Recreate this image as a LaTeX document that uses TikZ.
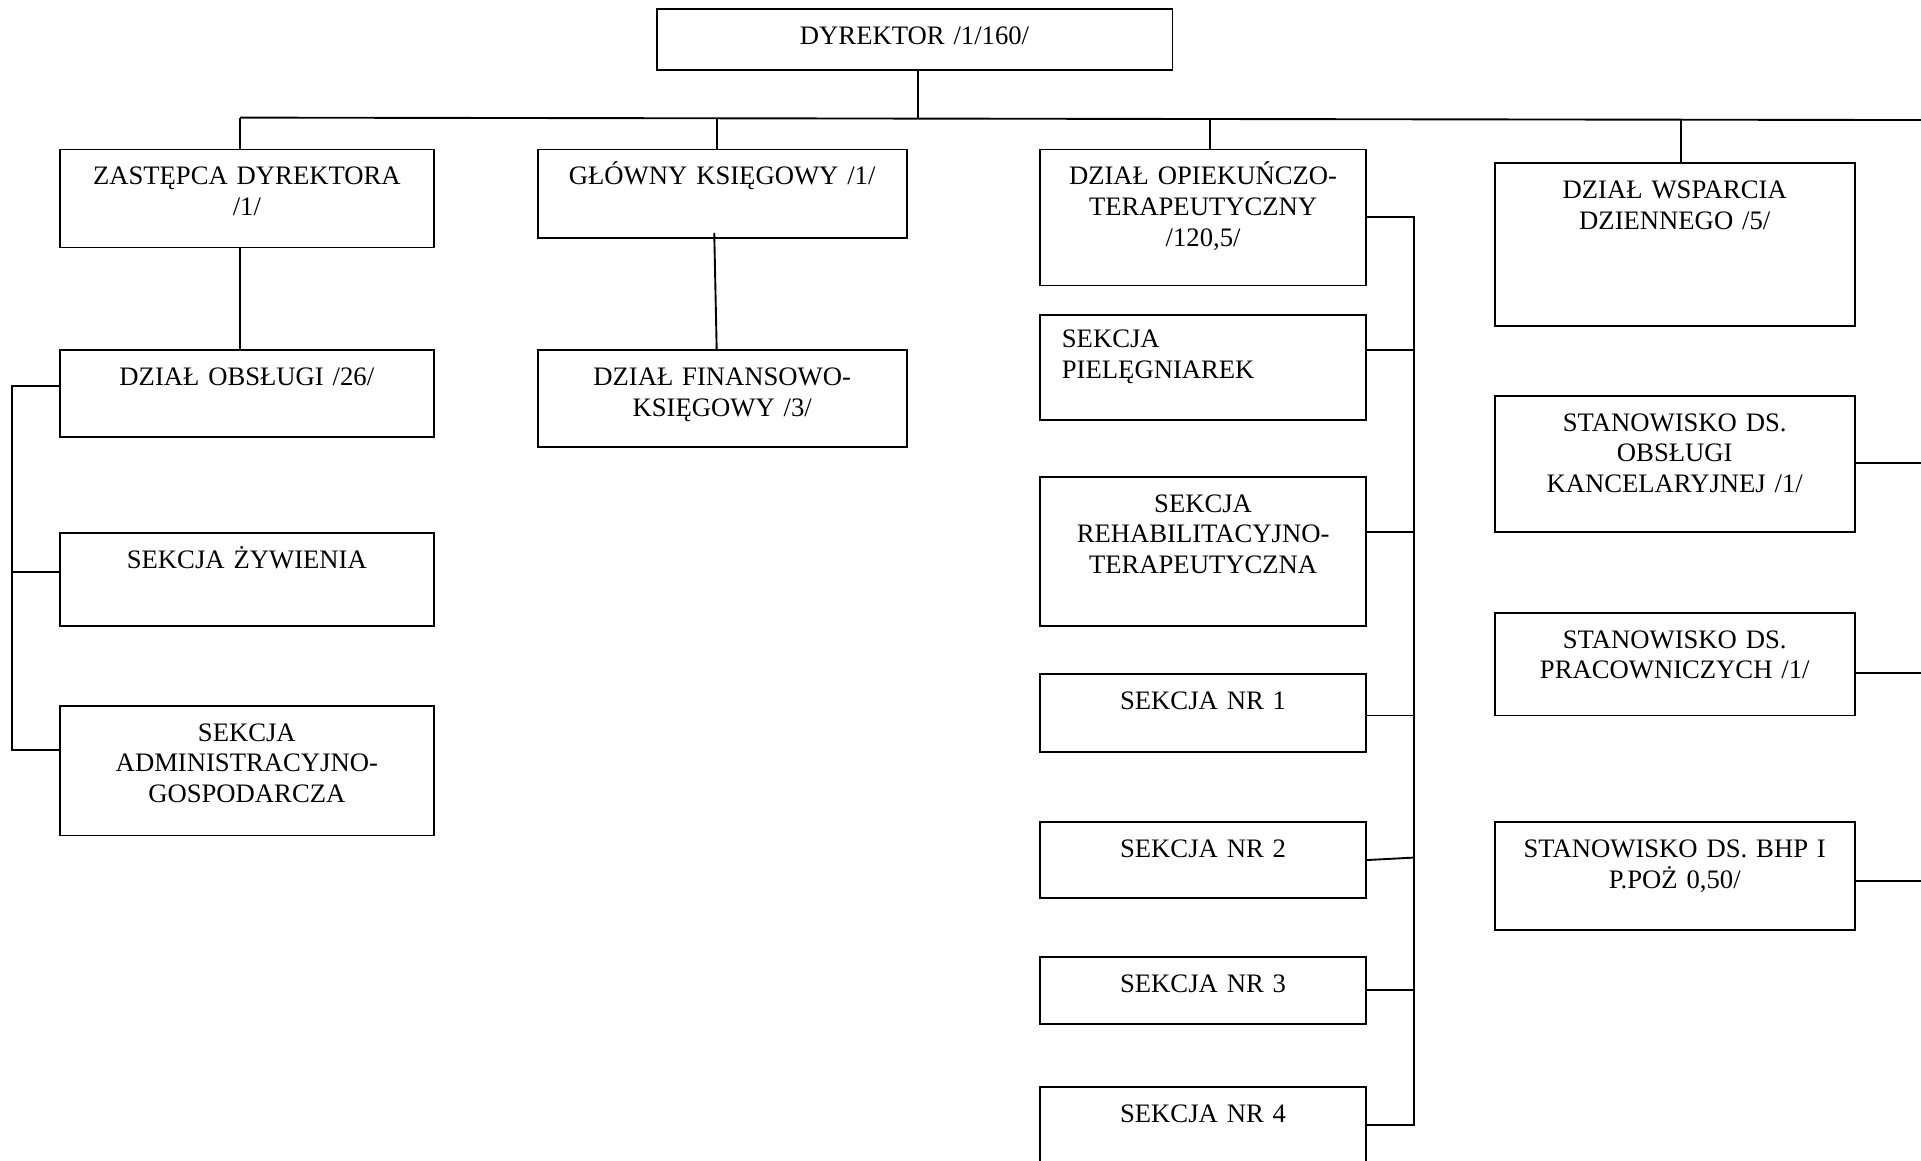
\documentclass[tikz,border=0pt]{standalone}
\usepackage{fontspec}
\setmainfont{Liberation Serif}
\usetikzlibrary{fit}
\newcommand\orgbox[6]{%
  \node[frame, fit={(#2,#3)(#4,#5)}] (#1) {};
  \node[lbl, anchor=base] (#1-t) at ({(#2+#4)/2},{#3+29}) {#6};
}
\begin{document}
\begin{tikzpicture}[x=0.5513pt,y=-0.5513pt, line width=0.85pt,
  frame/.style={draw, inner sep=0pt},
  lbl/.style={inner sep=0pt, font=\fontsize{12}{13.8}\selectfont, align=center, text width=260pt},
  lbll/.style={inner sep=0pt, font=\fontsize{12}{13.8}\selectfont, align=left, text width=200pt}]
\useasboundingbox (0,0) rectangle (1568,947);
\clip (0,0) rectangle (1568,947);

% boxes
\orgbox{dyr}{536}{7}{957}{57}{DYREKTOR /1/160/}
\orgbox{zast}{49}{122}{354}{202}{ZASTĘPCA DYREKTORA\\/1/}
\orgbox{glow}{439}{122}{740}{194}{GŁÓWNY KSIĘGOWY /1/}
\orgbox{opiek}{849}{122}{1115}{233}{DZIAŁ OPIEKUŃCZO-\\TERAPEUTYCZNY\\/120,5/}
\orgbox{wsp}{1220}{133}{1514}{266}{DZIAŁ WSPARCIA\\DZIENNEGO /5/}
\orgbox{obs}{49}{286}{354}{357}{DZIAŁ OBSŁUGI /26/}
\orgbox{fin}{439}{286}{740}{365}{DZIAŁ FINANSOWO-\\KSIĘGOWY /3/}
\orgbox{zyw}{49}{435}{354}{511}{SEKCJA ŻYWIENIA}
\orgbox{adm}{49}{576}{354}{682}{SEKCJA\\ADMINISTRACYJNO-\\GOSPODARCZA}
\node[frame, fit={(849,257)(1115,343)}] (piel) {};
\node[lbll, anchor=base west] (piel-t) at (866,284) {SEKCJA\\PIELĘGNIAREK};
\orgbox{reh}{849}{389}{1115}{511}{SEKCJA\\REHABILITACYJNO-\\TERAPEUTYCZNA}
\orgbox{nr1}{849}{550}{1115}{614}{SEKCJA NR 1}
\orgbox{nr2}{849}{671}{1115}{733}{SEKCJA NR 2}
\orgbox{nr3}{849}{781}{1115}{836}{SEKCJA NR 3}
\orgbox{nr4}{849}{887}{1115}{965}{SEKCJA NR 4}
\orgbox{kanc}{1220}{323}{1514}{434}{STANOWISKO DS.\\OBSŁUGI\\KANCELARYJNEJ /1/}
\orgbox{prac}{1220}{500}{1514}{584}{STANOWISKO DS.\\PRACOWNICZYCH /1/}
\orgbox{bhp}{1220}{671}{1514}{759}{STANOWISKO DS. BHP I\\P.POŻ 0,50/}

% main bus
\coordinate (bL) at (196,96);
\coordinate (bR) at (1580,98);
\coordinate (bD) at (749,96.8);
\coordinate (bG) at (585,96.6);
\coordinate (bO) at (988,97.2);
\coordinate (bW) at (1372,97.8);
\draw (bL) -- (bR);
\draw (dyr.south -| bD) -- (bD);
\draw (bL) -- (zast.north -| bL);
\draw (bG) -- (glow.north -| bG);
\draw (bO) -- (opiek.north -| bO);
\draw (bW) -- (wsp.north -| bW);

% left column
\draw (zast.south -| bL) -- (obs.north -| bL);
\coordinate (lT) at (10,315);
\coordinate (lM) at (10,467);
\coordinate (lB) at (10,612);
\draw (lT -| obs.west) -- (lT) -- (lB) -- (lB -| adm.west);
\draw (lM) -- (lM -| zyw.west);

% finance
\coordinate (gA) at (583,190);
\coordinate (gB) at (585,286);
\draw (gA) -- (gB);

% right bus of care department
\coordinate (r0) at (1154,177);
\coordinate (r1) at (1154,286);
\coordinate (r2) at (1154,434);
\coordinate (r3) at (1154,584);
\coordinate (r4) at (1154,700);
\coordinate (r5) at (1154,808);
\coordinate (r6) at (1154,918);
\draw (r0 -| opiek.east) -- (r0) -- (r6) -- (r6 -| nr4.east);
\draw (r1 -| piel.east) -- (r1);
\draw (r2 -| reh.east) -- (r2);
\draw (r3 -| nr1.east) -- (r3);
\draw (nr2.east) -- (r4);
\draw (r5 -| nr3.east) -- (r5);

% right column connectors
\coordinate (k1) at (1580,378);
\coordinate (k2) at (1580,549);
\coordinate (k3) at (1580,719);
\draw (kanc.east |- k1) -- (k1);
\draw (prac.east |- k2) -- (k2);
\draw (bhp.east |- k3) -- (k3);
\end{tikzpicture}
\end{document}
